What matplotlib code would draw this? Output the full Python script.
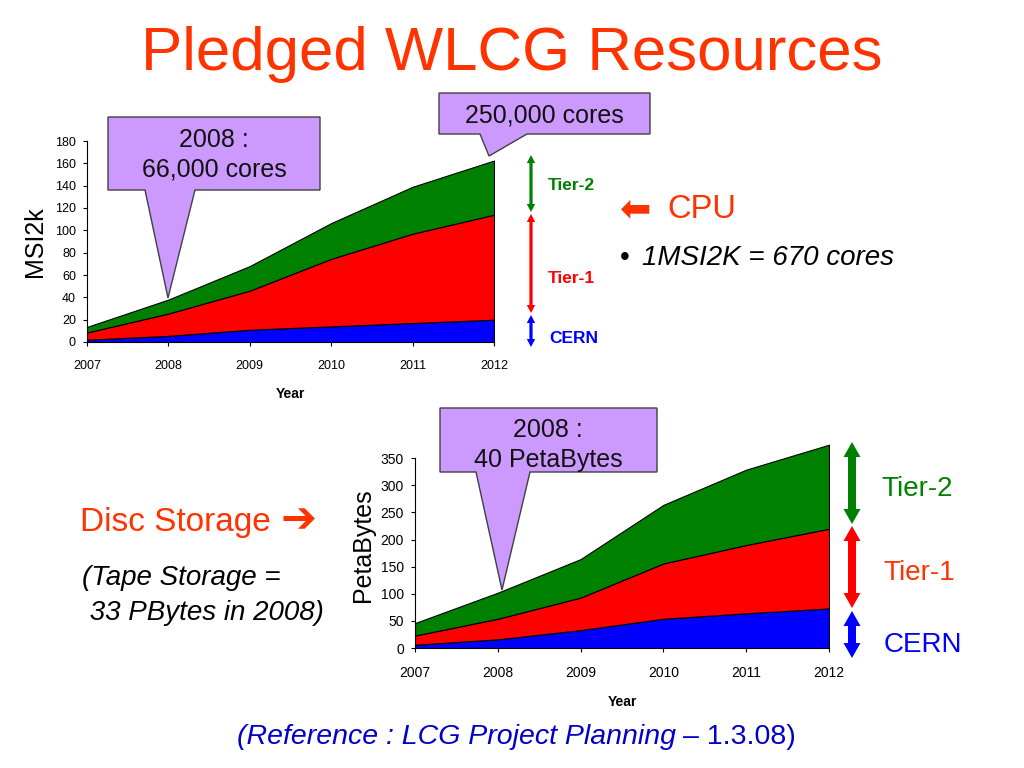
import matplotlib
matplotlib.use("Agg")
import matplotlib.pyplot as plt
from matplotlib.patches import Polygon

plt.rcParams['font.family'] = ['Liberation Sans', 'DejaVu Sans']

# Pledged CPU (MSI2k), cumulative stack
years = [2007, 2008, 2009, 2010, 2011, 2012]
cpu_cern = [2, 5.5, 11, 14, 17, 20]
cpu_tier1 = [6.5, 20, 35, 60.5, 80, 94]
cpu_tier2 = [5, 12.5, 22, 32, 42, 48.5]

# Pledged disc (PetaBytes)
disk_cern = [6, 16, 33, 54, 64, 73]
disk_tier1 = [17, 38, 60, 102, 126, 147]
disk_tier2 = [23, 48, 71, 108, 139, 155]

cpu_ticks = list(range(0, 181, 20))
disk_ticks = list(range(0, 351, 50))

C_GREEN = '#008000'
C_RED = '#ff0000'
C_BLUE = '#0000ff'
C_TITLE = '#ff3300'
C_CALLOUT = '#cc99ff'

W, H = 1024, 768
fig = plt.figure(figsize=(W / 100, H / 100), dpi=100)


def fx(x):
    return x / W


def fy(y):
    return 1 - y / H


def stacked(ax, cern, t1, t2):
    lo = [0] * len(years)
    for vals, col in [(cern, C_BLUE), (t1, C_RED), (t2, C_GREEN)]:
        hi = [a + b for a, b in zip(lo, vals)]
        ax.fill_between(years, lo, hi, facecolor=col, edgecolor='black', linewidth=0.8)
        lo = hi


def style_axes(ax, ticks, fs):
    ax.set_xlim(2007, 2012)
    ax.set_xticks(years)
    ax.set_yticks(ticks)
    ax.spines['top'].set_visible(False)
    ax.spines['right'].set_visible(False)
    ax.spines['left'].set_bounds(ticks[0], ticks[-1])
    ax.tick_params(direction='out', length=3, width=0.8, labelsize=fs)
    ax.tick_params(axis='x', pad=10)
    ax.tick_params(axis='y', pad=5)
    ax.patch.set_alpha(0)


# ---- CPU chart ----
ax1 = fig.add_axes([fx(87), fy(342), fx(494) - fx(87), fy(141) - fy(342)])
stacked(ax1, cpu_cern, cpu_tier1, cpu_tier2)
ax1.set_ylim(0, 180)
style_axes(ax1, cpu_ticks, 9)
ax1.set_xlabel('Year', fontsize=10, fontweight='bold', labelpad=11)
ax1.set_ylabel('MSI2k', fontsize=18, labelpad=6)

# ---- Disc chart ----
ax2 = fig.add_axes([fx(415), fy(648), fx(829) - fx(415), fy(442) - fy(648)])
stacked(ax2, disk_cern, disk_tier1, disk_tier2)
ax2.set_ylim(0, 380)
style_axes(ax2, disk_ticks, 10)
ax2.set_xlabel('Year', fontsize=10, fontweight='bold', labelpad=11)
ax2.set_ylabel('PetaBytes', fontsize=18, labelpad=4)


def callout(pts, text, cx, cy):
    poly = Polygon([(fx(x), fy(y)) for x, y in pts], closed=True,
                   transform=fig.transFigure, facecolor=C_CALLOUT,
                   edgecolor='#404040', linewidth=1.0, zorder=5)
    fig.add_artist(poly)
    fig.text(fx(cx), fy(cy), text, ha='center', va='center', fontsize=18,
             color='#111111', linespacing=1.3, zorder=6)


callout([(108, 117), (320, 117), (320, 190), (195, 190), (168, 298),
         (145, 190), (108, 190)], '2008 :\n66,000 cores', 214, 155)
callout([(439, 93), (650, 93), (650, 134), (527, 134), (489, 156),
         (480, 134), (439, 134)], '250,000 cores', 544, 115)
callout([(440, 408), (657, 408), (657, 472), (530, 472), (502, 590),
         (476, 472), (440, 472)], '2008 :\n40 PetaBytes', 548, 445)


def double_arrow(x, y0, y1, col, sw, hw, hl):
    pts = [(x, y0), (x + hw, y0 + hl), (x + sw, y0 + hl), (x + sw, y1 - hl),
           (x + hw, y1 - hl), (x, y1), (x - hw, y1 - hl), (x - sw, y1 - hl),
           (x - sw, y0 + hl), (x - hw, y0 + hl)]
    fig.add_artist(Polygon([(fx(a), fy(b)) for a, b in pts], closed=True,
                           transform=fig.transFigure, facecolor=col,
                           edgecolor='none'))


# side arrows, CPU chart
double_arrow(531, 155, 212, C_GREEN, 1.6, 4.2, 8)
double_arrow(531, 214, 313, C_RED, 1.6, 4.2, 8)
double_arrow(531, 315, 347, C_BLUE, 1.6, 4.2, 8)
fig.text(fx(548), fy(185), 'Tier-2', color=C_GREEN, fontsize=12.5, fontweight='bold', va='center')
fig.text(fx(548), fy(278), 'Tier-1', color=C_RED, fontsize=12.5, fontweight='bold', va='center')
fig.text(fx(549), fy(338), 'CERN', color=C_BLUE, fontsize=12.5, fontweight='bold', va='center')

# side arrows, disc chart
double_arrow(852, 442, 524, C_GREEN, 4, 8.5, 15)
double_arrow(852, 526, 608, C_RED, 4, 8.5, 15)
double_arrow(852, 611, 658, C_BLUE, 4, 8.5, 15)
fig.text(fx(881), fy(489), 'Tier-2', color=C_GREEN, fontsize=20, va='center')
fig.text(fx(883), fy(573), 'Tier-1', color=C_TITLE, fontsize=20, va='center')
fig.text(fx(884), fy(645), 'CERN', color=C_BLUE, fontsize=20, va='center')

# slide texts
fig.text(0.5, fy(70), 'Pledged WLCG Resources', ha='center', va='baseline',
         fontsize=44.5, color=C_TITLE)
fig.text(fx(620), fy(210), '\u2b05', fontsize=27, color=C_TITLE, va='center')
fig.text(fx(667), fy(210), 'CPU', fontsize=23.5, color=C_TITLE, va='center')
fig.text(fx(620), fy(258), '\u2022', fontsize=20, va='center')
fig.text(fx(642), fy(258), '1MSI2K = 670 cores', fontsize=20, style='italic', va='center')
fig.text(fx(80), fy(523), 'Disc Storage', fontsize=24, color=C_TITLE, va='center')
fig.text(fx(281), fy(521), '\u2794', fontsize=31, color=C_TITLE, va='center')
fig.text(fx(82), fy(578), '(Tape Storage =', fontsize=20, style='italic', va='center')
fig.text(fx(82), fy(613), ' 33 PBytes in 2008)', fontsize=20, style='italic', va='center')

ref = fig.text(fx(237), fy(737), '(Reference : LCG Project Planning', fontsize=20.5,
               style='italic', color='#0000cc', va='center')
bb = ref.get_window_extent(renderer=fig.canvas.get_renderer())
fig.text((bb.x1 + 7) / W, fy(737), '\u2013 1.3.08)', fontsize=20.5, color='#0000cc',
         va='center')

fig.savefig('out.png', dpi=100)
